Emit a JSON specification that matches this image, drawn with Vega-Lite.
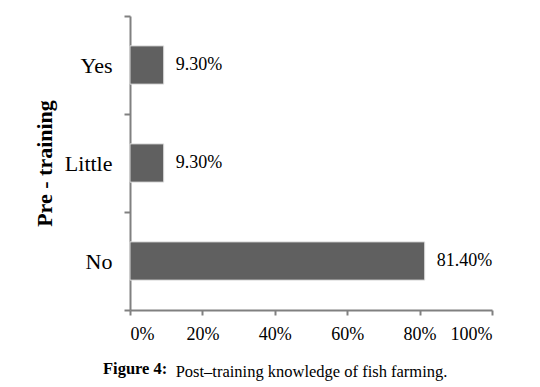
{
  "$schema": "https://vega.github.io/schema/vega-lite/v6.json",
  "autosize": "none",
  "width": 362,
  "height": 294,
  "padding": {"left": 130, "top": 16, "right": 48, "bottom": 77},
  "background": "white",
  "config": {
    "font": "Liberation Serif",
    "view": {"stroke": null}
  },
  "title": {
    "text": "Figure 4:",
    "orient": "bottom",
    "anchor": "start",
    "frame": "group",
    "dx": -27,
    "offset": -19,
    "font": "Liberation Serif",
    "fontSize": 16.5,
    "fontWeight": "bold",
    "color": "black"
  },
  "data": {
    "values": [
      {"category": "Yes", "value": 0.093},
      {"category": "Little", "value": 0.093},
      {"category": "No", "value": 0.814}
    ]
  },
  "encoding": {
    "y": {
      "field": "category",
      "type": "nominal",
      "sort": ["Yes", "Little", "No"],
      "scale": {"paddingInner": 0, "paddingOuter": 0},
      "axis": {
        "title": "Pre - training",
        "titleFont": "Liberation Serif",
        "titleFontSize": 22,
        "titleFontWeight": "bold",
        "titleColor": "black",
        "titlePadding": 8,
        "labelFont": "Liberation Serif",
        "labelFontSize": 22,
        "labelColor": "black",
        "labelPadding": 12,
        "tickBand": "extent",
        "domainColor": "#808080",
        "domainWidth": 2,
        "tickColor": "#808080",
        "tickWidth": 2,
        "tickSize": 6
      }
    }
  },
  "layer": [
    {
      "mark": {"type": "bar", "color": "#606060", "stroke": "#d9d9d9", "strokeWidth": 1, "height": {"band": 0.39}},
      "encoding": {
        "x": {
          "field": "value",
          "type": "quantitative",
          "scale": {"domain": [0, 1]},
          "axis": {
            "format": "%",
            "values": [0, 0.2, 0.4, 0.6, 0.8, 1],
            "grid": false,
            "title": "Post–training knowledge of fish farming.",
            "titleFont": "Liberation Serif",
            "titleFontSize": 16.5,
            "titleFontWeight": "normal",
            "titleColor": "black",
            "titlePadding": 20,
            "labelFont": "Liberation Serif",
            "labelFontSize": 18,
            "labelColor": "black",
            "labelPadding": 10,
            "domainColor": "#808080",
            "domainWidth": 2,
            "tickColor": "#808080",
            "tickWidth": 2,
            "tickSize": 5
          }
        }
      }
    },
    {
      "mark": {"type": "text", "align": "left", "dx": 12, "font": "Liberation Serif", "fontSize": 18, "color": "black"},
      "encoding": {
        "x": {"field": "value", "type": "quantitative"},
        "text": {"field": "value", "type": "quantitative", "format": ".2%"}
      }
    }
  ]
}
